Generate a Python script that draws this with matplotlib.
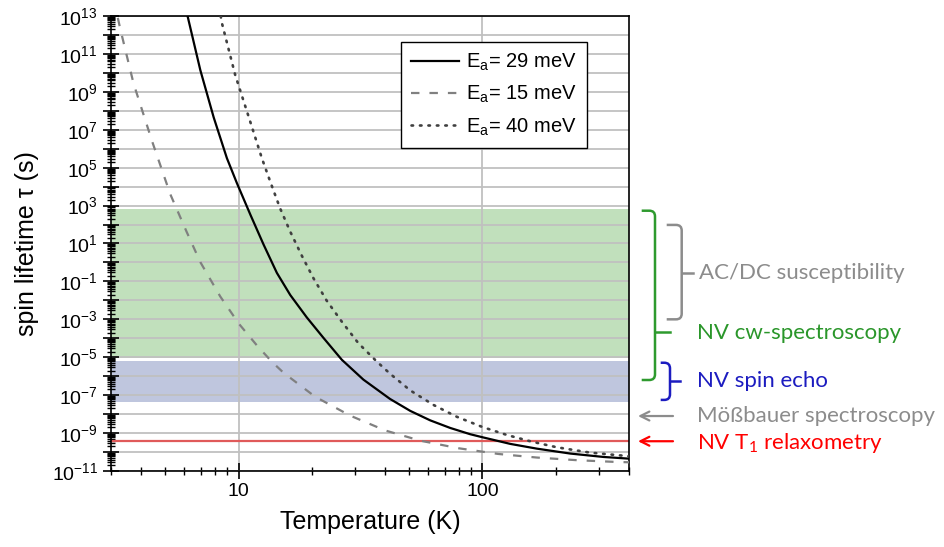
import numpy as np
import matplotlib
matplotlib.use("Agg")
import matplotlib.pyplot as plt
import matplotlib.transforms as mtransforms
from matplotlib.path import Path
from matplotlib.patches import PathPatch
from matplotlib.ticker import LogLocator, FuncFormatter, NullFormatter

plt.rcParams['font.family'] = ['Liberation Sans', 'DejaVu Sans']
plt.rcParams['mathtext.default'] = 'regular'

# curves: temperature (K) and log10 of spin lifetime (s)
temp_29 = [6.18, 6.97, 7.91, 8.96, 9.85, 11.2, 12.66, 14.36, 16.3, 19.05, 22.3, 26.5,
           32.5, 41.8, 50.6, 61.1, 73.8, 89.1, 100, 130, 167, 229, 314, 400]
logtau_29 = [13.0, 10.15, 7.65, 5.50, 4.18, 2.50, 0.95, -0.55, -1.72, -2.90, -3.98, -5.13,
             -6.18, -7.20, -7.83, -8.33, -8.73, -9.06, -9.22, -9.57, -9.82, -10.08, -10.26, -10.35]

temp_15 = [3.2, 3.27, 3.71, 4.42, 5.25, 6.11, 6.97, 8.41, 9.4, 10.0, 11.9, 13.7, 15.3,
           20.6, 28.7, 39.9, 55.6, 79.8, 116, 167, 244, 350, 400]
logtau_15 = [12.9, 12.35, 9.45, 6.4, 3.6, 1.65, 0.02, -1.79, -2.70, -3.21, -4.38, -5.24, -5.82,
             -7.08, -8.08, -8.86, -9.40, -9.80, -10.10, -10.29, -10.43, -10.52, -10.54]

temp_40 = [8.45, 8.55, 9.69, 11.0, 12.47, 13.5, 14.8, 16.3, 18.2, 20.3, 23.0, 26.5, 31.0,
           36.9, 41.9, 50.6, 63.1, 78.5, 100, 126, 159, 202, 276, 391, 400]
logtau_40 = [13.0, 12.62, 9.89, 7.69, 5.49, 4.25, 2.86, 1.62, 0.34, -0.84, -2.02, -3.12, -4.26,
             -5.23, -5.88, -6.75, -7.52, -8.14, -8.68, -9.10, -9.45, -9.75, -10.03, -10.21, -10.23]

# measurement windows (log10 s)
cw_window = (-5.02, 2.8)
echo_window = (-7.34, -5.18)
relax_level = -9.43
mossbauer_level = -8.1

W, H = 944, 547
fig = plt.figure(figsize=(W / 100, H / 100), dpi=100)
ax = fig.add_axes([111 / W, 1 - 471 / H, (629.3 - 111) / W, (471 - 16) / H])
ax.set_xscale('log')
ax.set_yscale('log')
ax.set_xlim(3, 400)
ax.set_ylim(1e-11, 1e13)

ax.axhspan(10 ** cw_window[0], 10 ** cw_window[1], color='#c1e0bc', lw=0, zorder=1)
ax.axhspan(10 ** echo_window[0], 10 ** echo_window[1], color='#bfc6de', lw=0, zorder=1)
ax.axhline(10 ** relax_level, color='#e05a5a', lw=1.6, zorder=1.8)

ax.plot(temp_29, 10 ** np.array(logtau_29), color='black', lw=1.6,
        label=r'$\mathregular{E_a}$= 29 meV', zorder=3)
ax.plot(temp_15, 10 ** np.array(logtau_15), color='#808080', lw=1.6,
        dashes=(3.8, 4.5), label=r'$\mathregular{E_a}$= 15 meV', zorder=3)
ax.plot(temp_40, 10 ** np.array(logtau_40), color='#404040', lw=1.9,
        dashes=(0.6, 2.6), dash_capstyle='round', label=r'$\mathregular{E_a}$= 40 meV', zorder=3)

# ticks and grid
ax.yaxis.set_major_locator(LogLocator(base=10, numticks=40))
ax.yaxis.set_minor_locator(LogLocator(base=10, subs=np.arange(2, 10), numticks=40))
ax.yaxis.set_minor_formatter(NullFormatter())


def ylab(v, pos):
    e = int(round(np.log10(v)))
    if e % 2 == 0:
        return ''
    return r'$\mathregular{10^{%d}}$' % e


ax.yaxis.set_major_formatter(FuncFormatter(ylab))
ax.xaxis.set_major_formatter(FuncFormatter(lambda v, p: '%d' % v))
ax.xaxis.set_minor_formatter(NullFormatter())
ax.tick_params(which='major', direction='inout', length=11, width=1.2, labelsize=14)
ax.tick_params(which='minor', direction='inout', length=6, width=1.0)
ax.tick_params(axis='y', which='major', pad=4.0)
ax.tick_params(axis='x', which='major', pad=3)
ax.grid(True, which='major', color='#c0c0c0', lw=1.3, zorder=1.5)
for s in ax.spines.values():
    s.set_linewidth(1.2)

ax.set_xlabel('Temperature (K)', fontsize=18, labelpad=7)
ax.set_ylabel('spin lifetime τ (s)', fontsize=18, labelpad=9)

leg = ax.legend(loc='upper left', bbox_to_anchor=(400.7 / W, 1 - 41.7 / H),
                bbox_transform=fig.transFigure, borderaxespad=0, fontsize=14.5,
                fancybox=False, framealpha=1, edgecolor='black', handlelength=2.4,
                handletextpad=0.35, labelspacing=0.55, borderpad=0.5)
leg.get_frame().set_linewidth(1.0)

# annotations to the right of the axes (x in figure fraction, y in data)
trans = mtransforms.blended_transform_factory(fig.transFigure, ax.transData)


def brace(top, bot, tip, x0, x1, x2, color):
    rx = 0.006
    ry = 0.3
    verts = [(x0, 10 ** top), (x1 - rx, 10 ** top), (x1, 10 ** top), (x1, 10 ** (top - ry)),
             (x1, 10 ** (bot + ry)), (x1, 10 ** bot), (x1 - rx, 10 ** bot), (x0, 10 ** bot)]
    codes = [Path.MOVETO, Path.LINETO, Path.CURVE3, Path.CURVE3,
             Path.LINETO, Path.CURVE3, Path.CURVE3, Path.LINETO]
    fig.add_artist(PathPatch(Path(verts, codes), transform=trans, fill=False,
                             edgecolor=color, lw=1.8))
    fig.add_artist(plt.Line2D([x1, x2], [10 ** tip, 10 ** tip], transform=trans,
                              color=color, lw=1.8))


brace(2.73, -6.2, -3.65, 641.7 / W, 655 / W, 670 / W, '#2e9a2e')
brace(1.98, -3.0, -0.54, 666.7 / W, 681.7 / W, 693.3 / W, '#8c8c8c')
brace(-5.29, -7.25, -6.25, 660.7 / W, 670 / W, 680 / W, '#1c1cc0')

for lvl, col in [(mossbauer_level, '#8c8c8c'), (relax_level, '#ff0000')]:
    ax.annotate('', xy=(638 / W, 10 ** lvl), xytext=(673 / W, 10 ** lvl),
                xycoords=trans, textcoords=trans, annotation_clip=False,
                arrowprops=dict(arrowstyle='->', color=col, lw=1.6, mutation_scale=16,
                                shrinkA=0, shrinkB=0))

tfam = ['Lato', 'DejaVu Sans']
tx = 697 / W
labels = [
    (699 / W, -0.54, 'AC/DC susceptibility', '#8c8c8c'),
    (tx, -3.7, 'NV cw-spectroscopy', '#2a962a'),
    (tx, -6.25, 'NV spin echo', '#1c1cc0'),
    (tx, mossbauer_level, 'Mößbauer spectroscopy', '#8c8c8c'),
    (tx, -9.5, r'NV T$\mathregular{_1}$ relaxometry', '#ff0000'),
]
for x, ylog, s, col in labels:
    fig.text(x, 10 ** ylog, s, transform=trans, color=col, fontsize=16,
             family=tfam, va='center')

fig.savefig('out.png', dpi=100)
